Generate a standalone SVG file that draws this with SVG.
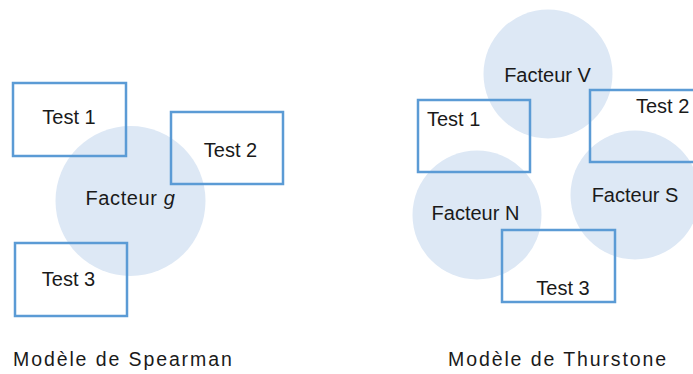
<svg xmlns="http://www.w3.org/2000/svg" width="693" height="374" viewBox="0 0 693 374">
<style>
.bg{fill:#ffffff}
.fac{fill:#dde8f5;stroke:none}
.test{fill:none;stroke:#5b9bd5;stroke-width:2.5}
text{font-family:"Liberation Sans",Arial,sans-serif;font-size:20px;fill:#1a1a1a}
.mid{text-anchor:middle}
.cap{font-size:19.5px;letter-spacing:1.9px}
</style>
<rect class="bg" x="0" y="0" width="693" height="374"/>
<g id="spearman">
  <g id="facteur-g"><circle class="fac" cx="130.5" cy="201" r="75"/><text class="mid" x="130.5" y="205" letter-spacing="0.6">Facteur <tspan font-style="italic">g</tspan></text></g>
  <g id="s-test1"><rect class="test" x="13" y="83" width="113" height="73"/><text class="mid" x="69" y="124">Test 1</text></g>
  <g id="s-test2"><rect class="test" x="171" y="112" width="112" height="72"/><text class="mid" x="230.5" y="157">Test 2</text></g>
  <g id="s-test3"><rect class="test" x="15" y="243" width="112" height="73"/><text class="mid" x="68.5" y="286">Test 3</text></g>
  <text class="cap" x="13" y="366">Modèle de Spearman</text>
</g>
<g id="thurstone">
  <g id="facteur-v"><circle class="fac" cx="548" cy="74" r="64.5"/></g>
  <g id="facteur-n"><circle class="fac" cx="477" cy="215" r="64.5"/></g>
  <g id="facteur-s"><circle class="fac" cx="635" cy="195" r="64.5"/></g>
  <text class="mid" x="547.5" y="82">Facteur V</text>
  <text class="mid" x="475.5" y="220">Facteur N</text>
  <text class="mid" x="635" y="202">Facteur S</text>
  <g id="t-test1"><rect class="test" x="418" y="100" width="112" height="72"/><text x="427" y="126">Test 1</text></g>
  <g id="t-test2"><rect class="test" x="590" y="90" width="115" height="72"/><text x="636" y="113">Test 2</text></g>
  <g id="t-test3"><rect class="test" x="502" y="230" width="113" height="72"/><text class="mid" x="563" y="295">Test 3</text></g>
  <text class="cap" x="448" y="366">Modèle de Thurstone</text>
</g>
<g id="connectors"></g>
</svg>
